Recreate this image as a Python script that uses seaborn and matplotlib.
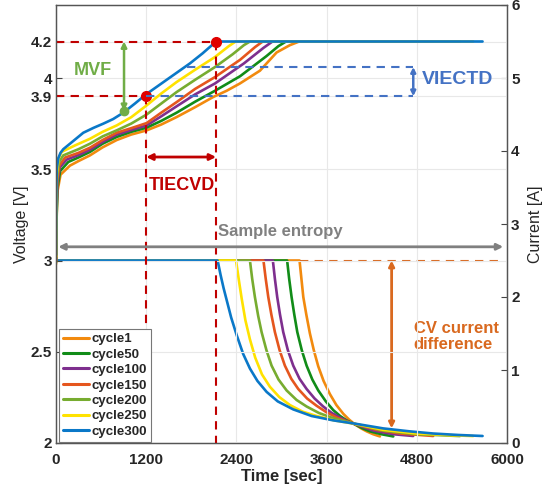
import matplotlib
matplotlib.use("Agg")
import matplotlib.pyplot as plt
from matplotlib.lines import Line2D
import seaborn as sns
import pandas as pd

# ---------------- data ----------------
cycles = ["cycle1", "cycle50", "cycle100", "cycle150", "cycle200", "cycle250", "cycle300"]
colors = ["#F28A0E", "#118C18", "#7E2F8E", "#E5561E", "#77AC30", "#FFE200", "#0A78C8"]

# voltage curves (time [s], voltage [V])
t_v_c1 = [0, 6, 20, 60, 186, 300, 452, 620, 807, 1000, 1206, 1400, 1605, 1850, 2092, 2270, 2447, 2713, 2935, 3112, 3235, 4309]
v_c1 = [2.98, 3.20, 3.38, 3.47, 3.52, 3.545, 3.576, 3.62, 3.66, 3.69, 3.713, 3.745, 3.786, 3.84, 3.896, 3.93, 3.97, 4.04, 4.14, 4.18, 4.2, 4.2]
t_v_c50 = [0, 6, 20, 55, 164, 300, 452, 620, 807, 1000, 1206, 1400, 1605, 1850, 2115, 2450, 2800, 2960, 3060, 4487]
v_c50 = [2.99, 3.22, 3.40, 3.49, 3.54, 3.565, 3.595, 3.64, 3.677, 3.705, 3.728, 3.765, 3.81, 3.87, 3.93, 4.01, 4.12, 4.175, 4.2, 4.2]
t_v_c100 = [0, 6, 18, 50, 142, 300, 452, 620, 807, 1000, 1206, 1400, 1605, 1850, 2115, 2500, 2760, 2880, 4752]
v_c100 = [3.0, 3.25, 3.42, 3.51, 3.553, 3.578, 3.607, 3.65, 3.69, 3.715, 3.74, 3.79, 3.845, 3.91, 3.97, 4.08, 4.165, 4.2, 4.2]
t_v_c150 = [0, 5, 16, 45, 120, 300, 452, 620, 807, 1000, 1206, 1400, 1605, 1850, 2115, 2450, 2650, 2750, 5018]
v_c150 = [3.0, 3.27, 3.44, 3.52, 3.564, 3.59, 3.618, 3.66, 3.70, 3.725, 3.753, 3.81, 3.868, 3.94, 4.005, 4.10, 4.17, 4.2, 4.2]
t_v_c200 = [0, 5, 14, 40, 97, 300, 452, 620, 807, 1000, 1206, 1400, 1605, 1850, 2115, 2350, 2500, 2580, 5373]
v_c200 = [3.01, 3.30, 3.46, 3.54, 3.576, 3.61, 3.64, 3.68, 3.713, 3.75, 3.80, 3.86, 3.923, 3.99, 4.06, 4.13, 4.18, 4.2, 4.2]
t_v_c250 = [0, 4, 12, 35, 75, 250, 452, 620, 807, 1000, 1206, 1400, 1605, 1850, 2115, 2300, 2390, 5550]
v_c250 = [3.02, 3.33, 3.48, 3.56, 3.595, 3.63, 3.667, 3.705, 3.74, 3.785, 3.85, 3.915, 3.978, 4.045, 4.115, 4.175, 4.2, 4.2]
t_v_c300 = [0, 4, 10, 30, 60, 97, 186, 363, 500, 630, 760, 896, 1050, 1197, 1472, 1782, 1950, 2130, 5675]
v_c300 = [3.03, 3.36, 3.50, 3.56, 3.59, 3.61, 3.64, 3.70, 3.727, 3.75, 3.775, 3.81, 3.86, 3.91, 3.99, 4.08, 4.135, 4.2, 4.2]

# current curves (time [s], current [A])
t_i_c1 = [0, 3240, 3265, 3290, 3330, 3378, 3430, 3489, 3560, 3644, 3730, 3822, 3900, 3977, 4060, 4132, 4220, 4309]
i_c1 = [2.5, 2.5, 2.25, 2.0, 1.76, 1.5, 1.27, 1.05, 0.85, 0.67, 0.52, 0.40, 0.32, 0.255, 0.20, 0.16, 0.12, 0.09]
t_i_c50 = [0, 3075, 3102, 3134, 3170, 3210, 3270, 3334, 3410, 3489, 3590, 3689, 3780, 3866, 3977, 4080, 4176, 4330, 4487]
i_c50 = [2.5, 2.5, 2.25, 2.0, 1.76, 1.52, 1.27, 1.06, 0.87, 0.72, 0.57, 0.45, 0.37, 0.31, 0.255, 0.20, 0.16, 0.12, 0.09]
t_i_c100 = [0, 2885, 2912, 2943, 2980, 3023, 3085, 3156, 3240, 3334, 3440, 3555, 3670, 3777, 3880, 3977, 4221, 4487, 4752]
i_c100 = [2.5, 2.5, 2.25, 2.0, 1.76, 1.52, 1.27, 1.06, 0.88, 0.74, 0.61, 0.50, 0.41, 0.35, 0.295, 0.258, 0.17, 0.12, 0.096]
t_i_c150 = [0, 2760, 2790, 2824, 2865, 2912, 2975, 3045, 3130, 3223, 3340, 3467, 3600, 3733, 3850, 3977, 4265, 4575, 5018]
i_c150 = [2.5, 2.5, 2.25, 2.0, 1.76, 1.52, 1.27, 1.06, 0.88, 0.74, 0.61, 0.51, 0.42, 0.35, 0.30, 0.26, 0.18, 0.13, 0.096]
t_i_c200 = [0, 2580, 2610, 2646, 2690, 2735, 2800, 2868, 2960, 3068, 3200, 3334, 3500, 3689, 3977, 4353, 4797, 5373]
i_c200 = [2.5, 2.5, 2.25, 2.0, 1.74, 1.52, 1.27, 1.06, 0.87, 0.72, 0.59, 0.50, 0.41, 0.34, 0.262, 0.17, 0.12, 0.095]
t_i_c250 = [0, 2395, 2430, 2470, 2520, 2580, 2650, 2740, 2846, 2970, 3112, 3280, 3467, 3700, 3977, 4353, 4797, 5285, 5550]
i_c250 = [2.5, 2.5, 2.25, 1.98, 1.68, 1.42, 1.17, 0.94, 0.77, 0.63, 0.52, 0.43, 0.37, 0.31, 0.262, 0.18, 0.13, 0.105, 0.095]
t_i_c300 = [0, 2150, 2190, 2230, 2270, 2330, 2403, 2490, 2580, 2680, 2802, 2950, 3157, 3400, 3689, 3977, 4353, 4700, 5018, 5350, 5675]
i_c300 = [2.5, 2.5, 2.30, 2.12, 1.96, 1.72, 1.48, 1.22, 1.02, 0.85, 0.70, 0.57, 0.46, 0.37, 0.31, 0.265, 0.20, 0.16, 0.13, 0.11, 0.096]

x_ticks = [0, 1200, 2400, 3600, 4800, 6000]
v_ticks = [2, 2.5, 3, 3.5, 3.9, 4, 4.2]
v_tick_labels = ["2", "2.5", "3", "3.5", "3.9", "4", "4.2"]
i_ticks = [0, 1, 2, 3, 4, 5, 6]

# ---------------- tables ----------------
v_sets = [(t_v_c1, v_c1), (t_v_c50, v_c50), (t_v_c100, v_c100), (t_v_c150, v_c150),
          (t_v_c200, v_c200), (t_v_c250, v_c250), (t_v_c300, v_c300)]
i_sets = [(t_i_c1, i_c1), (t_i_c50, i_c50), (t_i_c100, i_c100), (t_i_c150, i_c150),
          (t_i_c200, i_c200), (t_i_c250, i_c250), (t_i_c300, i_c300)]
df_v = pd.concat([pd.DataFrame({"t": t, "v": v, "cycle": c}) for c, (t, v) in zip(cycles, v_sets)],
                 ignore_index=True)
df_i = pd.concat([pd.DataFrame({"t": t, "i": i, "cycle": c}) for c, (t, i) in zip(cycles, i_sets)],
                 ignore_index=True)

# ---------------- style ----------------
sns.set_style("white")
plt.rcParams["font.family"] = ["Liberation Sans", "DejaVu Sans"]
ann_font = ["Liberation Sans", "DejaVu Sans"]
palette = dict(zip(cycles, colors))

fig = plt.figure(figsize=(5.47, 4.87), dpi=100)
ax = fig.add_axes([56 / 547, 1 - 443 / 487, 451 / 547, 438 / 487])
ax2 = ax.twinx()
ax.set_zorder(ax2.get_zorder() + 1)
ax.patch.set_visible(False)

sns.lineplot(data=df_i, x="t", y="i", hue="cycle", hue_order=cycles, palette=palette,
             estimator=None, sort=False, lw=1.9, legend=False, ax=ax2)
sns.lineplot(data=df_v, x="t", y="v", hue="cycle", hue_order=cycles, palette=palette,
             estimator=None, sort=False, lw=1.9, legend=False, ax=ax)

ax.set_xlim(0, 6000)
ax.set_ylim(2, 4.4)
ax2.set_ylim(0, 6)
ax.set_xticks(x_ticks)
ax.set_xticklabels([str(x) for x in x_ticks], fontweight="bold", fontsize=11)
ax.set_yticks(v_ticks)
ax.set_yticklabels(v_tick_labels, fontweight="bold", fontsize=11)
ax2.set_yticks(i_ticks)
ax2.set_yticklabels([str(i) for i in i_ticks], fontweight="bold", fontsize=11)
for a in (ax, ax2):
    a.tick_params(direction="in", length=4, width=0.8, color="#444444", pad=3)
    for s in a.spines.values():
        s.set_color("#555555")
        s.set_linewidth(0.9)
ax.tick_params(axis="x", pad=7)
ax.grid(True, color="#e8e8e8", lw=0.8)
ax.set_axisbelow(True)
ax2.grid(False)

ax.set_xlabel("Time [sec]", fontsize=12, fontweight="bold", labelpad=2)
ax.set_ylabel("Voltage [V]", fontsize=11.5, labelpad=1)
ax2.set_ylabel("Current [A]", fontsize=11.5, labelpad=6)

# ---------------- annotations ----------------
red = "#C00000"
dash = (0, (4, 3))
ax.plot([0, 2130], [4.2, 4.2], color=red, ls=dash, lw=1.5)
ax.plot([0, 1200], [3.9, 3.9], color=red, ls=dash, lw=1.5)
ax.plot([1200, 1200], [3.9, 2.0], color=red, ls=dash, lw=1.5)
ax.plot([2130, 2130], [4.2, 2.0], color=red, ls=dash, lw=1.5)
ax.plot([1200, 2130], [3.9, 4.2], ls="none", marker="o", color="#E00000", ms=7)
ax.annotate("", xy=(1200, 3.567), xytext=(2130, 3.567),
            arrowprops=dict(arrowstyle="<|-|>", color=red, lw=2, mutation_scale=9, shrinkA=0, shrinkB=0))
ax.text(1675, 3.41, "TIECVD", color=red, fontsize=13, fontweight="bold", family=ann_font,
        ha="center", va="center")

green = "#70AD47"
ax.plot([905], [3.82], marker="o", color=green, ms=6)
ax.annotate("", xy=(905, 4.2), xytext=(905, 3.82),
            arrowprops=dict(arrowstyle="<|-|>", color=green, lw=1.8, mutation_scale=8, shrinkA=0, shrinkB=0))
ax.text(490, 4.04, "MVF", color=green, fontsize=13, fontweight="bold", family=ann_font,
        ha="center", va="center")

blue = "#4472C4"
ax.plot([1738, 4753], [4.06, 4.06], color=blue, ls=dash, lw=1.5)
ax.plot([1200, 4753], [3.90, 3.90], color=blue, ls=dash, lw=1.5)
ax.annotate("", xy=(4753, 4.06), xytext=(4753, 3.90),
            arrowprops=dict(arrowstyle="<|-|>", color=blue, lw=1.8, mutation_scale=7, shrinkA=0, shrinkB=0))
ax.text(5347, 3.99, "VIECTD", color=blue, fontsize=14, fontweight="bold", family=ann_font,
        ha="center", va="center")

gray = "#808080"
ax.annotate("", xy=(30, 3.075), xytext=(5950, 3.075),
            arrowprops=dict(arrowstyle="<|-|>", color=gray, lw=2, mutation_scale=9, shrinkA=0, shrinkB=0))
ax.text(2980, 3.16, "Sample entropy", color=gray, fontsize=12, fontweight="bold", family=ann_font,
        ha="center", va="center")

orange = "#D9691F"
ax2.plot([3245, 5905], [2.5, 2.5], color=orange, ls=dash, lw=1.5)
ax2.annotate("", xy=(4465, 2.5), xytext=(4465, 0.2),
             arrowprops=dict(arrowstyle="<|-|>", color=orange, lw=2, mutation_scale=8, shrinkA=0, shrinkB=0))
ax2.text(4761, 1.46, "CV current\ndifference", color=orange, fontsize=12, fontweight="bold",
         family=ann_font, ha="left", va="center", linespacing=1.05)

# ---------------- legend ----------------
handles = [Line2D([0], [0], color=c, lw=2.2) for c in colors]
leg = ax.legend(handles, cycles, loc="lower left", bbox_to_anchor=(0.004, 0.0),
                frameon=True, fancybox=False, edgecolor="#777777", framealpha=1,
                handlelength=2.0, handletextpad=0.12, labelspacing=0.24, borderpad=0.3,
                borderaxespad=0.1, prop=dict(weight="bold", size=9.5))
leg.get_frame().set_linewidth(0.8)

fig.savefig("out.png", dpi=100)
